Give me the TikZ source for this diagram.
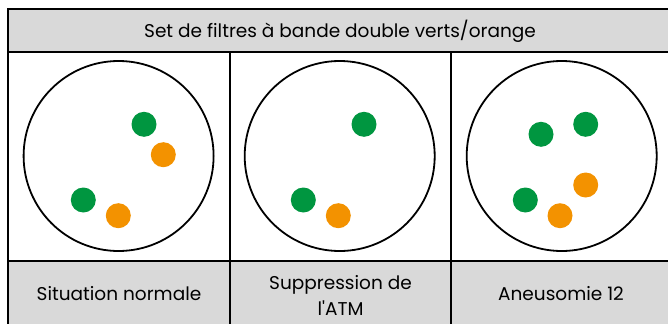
\documentclass[tikz,border=0pt]{standalone}
\usepackage{fontspec}
\newfontfamily\legendfont{Poppins}
\definecolor{cellgray}{RGB}{217,217,217}
\definecolor{fishgreen}{RGB}{0,150,64}
\definecolor{fishorange}{RGB}{243,146,0}
\tikzset{
  rule/.style={line width=2pt},
  nucleus/.style={circle,draw=black,line width=1.8pt,minimum size=190pt,inner sep=0pt},
  greendot/.style={circle,fill=fishgreen,minimum size=25pt,inner sep=0pt},
  orangedot/.style={circle,fill=fishorange,minimum size=25pt,inner sep=0pt},
  caption/.style={font=\legendfont\fontsize{18.5}{26}\selectfont,align=center,inner sep=0pt,anchor=base}
}
\begin{document}
\begin{tikzpicture}[x=1pt,y=-1pt]
  \useasboundingbox (0,0) rectangle (668,324);
  % gray bands
  \fill[cellgray] (8,9) rectangle (668,52);
  \fill[cellgray] (8,261) rectangle (668,324);
  % grid
  \draw[rule] (668,9) -- (8,9) -- (8,324);
  \draw[rule] (8,52) -- (668,52);
  \draw[rule] (8,261) -- (668,261);
  \draw[rule] (230,52) -- (230,324);
  \draw[rule] (451,52) -- (451,324);
  \node[caption] (titre) at (340,37.3) {Set de filtres à bande double verts/orange};
  % noyaux
  \node[nucleus] (noyau1) at (118.6,156) {};
  \node[nucleus] (noyau2) at (339.7,156) {};
  \node[nucleus] (noyau3) at (561.7,156) {};
  % signaux : situation normale
  \node[greendot] (v11) at (144,124.3) {};
  \node[orangedot] (o11) at (163.3,154.7) {};
  \node[greendot] (v12) at (83.3,200) {};
  \node[orangedot] (o12) at (118.3,215.7) {};
  % signaux : suppression
  \node[greendot] (v21) at (364,124.3) {};
  \node[greendot] (v22) at (303.3,200) {};
  \node[orangedot] (o21) at (338.3,215.7) {};
  % signaux : aneusomie
  \node[greendot] (v31) at (541,134.3) {};
  \node[greendot] (v32) at (585.7,124.3) {};
  \node[orangedot] (o31) at (585.7,185) {};
  \node[greendot] (v33) at (525.3,200) {};
  \node[orangedot] (o32) at (560,215.7) {};
  % legendes
  \node[caption] (lab1) at (119,300) {Situation normale};
  \node[caption] (lab2) at (340.5,315.7) {Suppression de\\l'ATM};
  \node[caption] (lab3) at (561,300) {Aneusomie 12};
\end{tikzpicture}
\end{document}
